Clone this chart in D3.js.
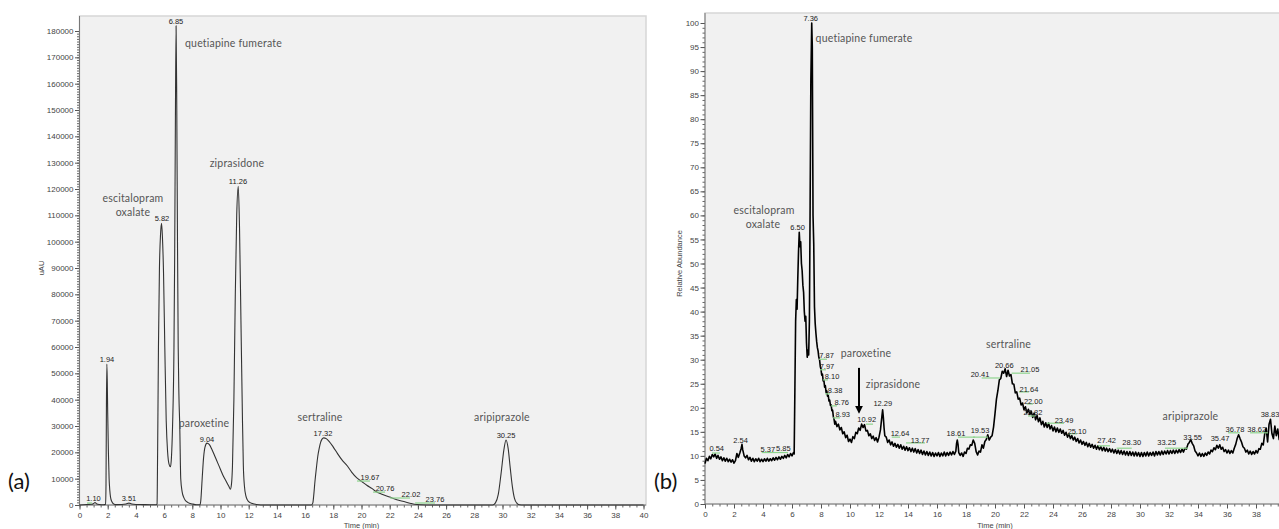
<!DOCTYPE html>
<html>
<head>
<meta charset="utf-8">
<script src="https://cdn.jsdelivr.net/npm/d3@7"></script>
<style>
  html, body { margin: 0; padding: 0; background: #fff; }
  svg { display: block; }
</style>
</head>
<body>
<svg id="fig" width="1279" height="529"></svg>
<script>
// ---------- (a) HPLC-UV chromatogram: [time (min), signal (uAU)] ----------
const lcTrace = [
  [0,0],[0.5,200],[0.9,300],[1.0,600],[1.1,900],[1.2,500],[1.4,200],[1.7,100],[1.85,300],
  [1.88,8000],[1.91,38000],[1.94,53500],[1.97,47000],[2.0,35000],[2.05,20000],[2.1,10000],
  [2.15,5500],[2.2,3000],[2.3,1200],[2.4,500],[2.6,150],[3.0,200],[3.3,400],[3.51,700],
  [3.7,400],[4.0,200],[4.5,150],[5.0,100],[5.45,100],[5.5,400],[5.54,20000],[5.6,60000],
  [5.67,90000],[5.75,103000],[5.82,107000],[5.88,102000],[5.96,88000],[6.05,60000],
  [6.15,32000],[6.25,20000],[6.35,15500],[6.45,14500],[6.52,18000],[6.6,30000],[6.7,60000],
  [6.75,95000],[6.8,145000],[6.85,182000],[6.9,150000],[6.95,100000],[7.0,60000],[7.05,42000],
  [7.11,30000],[7.18,10000],[7.28,5000],[7.4,2800],[7.5,1800],[7.7,900],[8.0,400],[8.3,100],
  [8.55,100],[8.6,1500],[8.7,10000],[8.8,18000],[8.9,22000],[9.04,23500],[9.2,23000],
  [9.4,21000],[9.6,18500],[9.8,16000],[10.0,13500],[10.2,11000],[10.4,9000],[10.6,7000],
  [10.7,6000],[10.78,8000],[10.85,15000],[10.95,40000],[11.05,80000],[11.15,110000],
  [11.26,121000],[11.35,105000],[11.45,70000],[11.55,35000],[11.62,15000],[11.7,7000],
  [11.8,3500],[11.9,2000],[12.1,900],[12.4,400],[12.7,100],[13.0,0],[16.45,0],[16.55,800],
  [16.6,3000],[16.7,9000],[16.8,14000],[16.9,18500],[17.0,21500],[17.1,23800],[17.2,25000],
  [17.32,25500],[17.5,25200],[17.7,24200],[18.0,22000],[18.3,19500],[18.6,17200],[19.0,14800],
  [19.3,12500],[19.67,10300],[20.0,9000],[20.4,7400],[20.76,6200],[21.0,5200],[21.5,4000],
  [22.0,3000],[22.5,2000],[23.0,1300],[23.5,600],[23.76,300],[24.2,100],[25.0,0],[29.3,0],
  [29.5,800],[29.7,4000],[29.9,12000],[30.1,21000],[30.25,24700],[30.4,21500],[30.55,14000],
  [30.7,7000],[30.85,2500],[31.0,800],[31.2,100],[31.5,0],[40,0]
];

// ---------- (b) LC-MS total ion chromatogram: [time (min), relative abundance] ----------
const msTrace = [
  [0.0,8.4],[0.1,9.5],[0.2,9.0],[0.3,9.9],[0.4,9.4],[0.5,10.3],[0.6,9.8],[0.7,10.4],[0.8,9.5],
  [0.9,10.1],[1.0,9.3],[1.1,9.8],[1.2,9.0],[1.3,9.6],[1.4,8.9],[1.5,9.5],[1.6,8.8],[1.7,9.3],
  [1.8,8.7],[1.9,9.2],[2.0,8.5],[2.1,9.0],[2.2,10.5],[2.3,9.7],[2.4,10.6],[2.5,11.6],[2.55,12.4],
  [2.6,11.3],[2.7,10.0],[2.8,9.6],[2.9,10.1],[3.0,9.2],[3.1,9.7],[3.2,8.9],[3.3,9.5],[3.4,8.8],
  [3.5,9.4],[3.6,8.9],[3.7,9.5],[3.8,8.8],[3.9,9.3],[4.0,8.8],[4.1,9.4],[4.2,8.9],[4.3,9.5],
  [4.4,8.9],[4.5,9.4],[4.6,9.0],[4.7,9.6],[4.8,9.1],[4.9,9.7],[5.0,9.2],[5.1,9.8],[5.2,9.3],
  [5.3,9.9],[5.4,9.5],[5.5,10.1],[5.6,9.6],[5.7,10.3],[5.8,9.8],[5.9,10.5],[6.0,10.0],[6.1,10.7],
  [6.15,10.4],[6.2,24],[6.25,38],[6.3,42.5],[6.35,40.5],[6.4,47],[6.45,52.5],[6.5,56.5],
  [6.55,53.5],[6.6,54.5],[6.65,50],[6.7,48.5],[6.75,45.5],[6.8,44],[6.85,40],[6.9,38],[6.95,39],
  [7.0,33.5],[7.05,30.5],[7.1,32],[7.15,31],[7.2,38],[7.25,62],[7.3,88],[7.36,100],[7.4,95],
  [7.45,60],[7.5,54],[7.55,41],[7.6,37.5],[7.65,35.5],[7.7,33.8],[7.75,32.5],[7.8,31.8],
  [7.85,30.5],[7.9,30],[7.95,28.6],[8.0,28.0],[8.05,26.8],[8.1,27.0],[8.15,25.6],[8.2,25.7],
  [8.25,24.3],[8.3,24.6],[8.35,23.2],[8.4,23.5],[8.45,22.4],[8.5,22.6],[8.55,21.4],[8.6,21.6],
  [8.65,20.5],[8.7,20.6],[8.75,19.4],[8.8,19.5],[8.85,18.2],[8.9,17.6],[8.95,16.6],[9.0,17.2],
  [9.1,16.1],[9.2,16.6],[9.3,15.4],[9.4,15.9],[9.5,14.6],[9.6,15.0],[9.7,13.8],[9.8,14.3],
  [9.9,13.0],[10.0,13.5],[10.1,12.8],[10.2,14.0],[10.3,13.6],[10.4,14.9],[10.5,14.6],[10.6,15.8],
  [10.7,15.3],[10.8,16.6],[10.9,15.9],[11.0,16.5],[11.1,15.2],[11.2,15.3],[11.3,14.2],[11.4,14.6],
  [11.5,13.6],[11.6,14.1],[11.7,13.2],[11.8,13.8],[11.9,12.9],[12.0,13.9],[12.1,15.4],[12.2,18.2],
  [12.25,19.6],[12.3,18.0],[12.35,15.8],[12.4,14.2],[12.5,13.9],[12.6,12.8],[12.7,13.3],[12.8,12.3],
  [12.9,12.9],[13.0,12.0],[13.1,12.6],[13.2,11.8],[13.3,12.4],[13.4,11.6],[13.5,12.3],[13.6,11.4],
  [13.7,12.0],[13.8,11.2],[13.9,11.9],[14.0,11.1],[14.1,11.7],[14.2,10.9],[14.3,11.6],[14.4,10.8],
  [14.5,11.5],[14.6,10.6],[14.7,11.3],[14.8,10.5],[14.9,11.2],[15.0,10.3],[15.1,11.0],[15.2,10.2],
  [15.3,10.9],[15.4,10.1],[15.5,10.8],[15.6,10.0],[15.7,10.7],[15.8,9.9],[15.9,10.6],[16.0,10.0],
  [16.1,10.7],[16.2,9.9],[16.3,10.6],[16.4,10.0],[16.5,10.8],[16.6,10.0],[16.7,10.7],[16.8,10.1],
  [16.9,10.8],[17.0,10.2],[17.1,10.9],[17.2,10.3],[17.3,11.0],[17.35,12.6],[17.4,13.3],[17.45,12.4],
  [17.5,10.7],[17.6,10.1],[17.7,10.6],[17.8,9.9],[17.9,10.8],[18.0,10.5],[18.1,11.6],[18.2,11.4],
  [18.3,12.3],[18.4,12.2],[18.5,13.3],[18.6,12.6],[18.7,10.9],[18.8,10.2],[18.9,11.0],[19.0,10.8],
  [19.1,12.3],[19.2,11.6],[19.3,13.0],[19.4,13.4],[19.5,14.4],[19.6,13.3],[19.7,13.9],[19.8,14.2],
  [19.9,16.0],[20.0,18.8],[20.1,21.8],[20.2,23.6],[20.3,25.8],[20.4,26.1],[20.5,27.6],[20.6,27.2],
  [20.7,28.1],[20.8,26.5],[20.9,27.8],[21.0,26.6],[21.1,26.9],[21.2,25.0],[21.3,24.9],[21.4,23.1],
  [21.5,23.3],[21.6,21.8],[21.7,22.0],[21.8,20.6],[21.9,21.0],[22.0,19.6],[22.1,20.2],[22.2,18.9],
  [22.3,19.7],[22.4,18.6],[22.5,19.3],[22.6,18.0],[22.7,18.9],[22.8,17.5],[22.9,18.4],[23.0,17.1],
  [23.1,17.9],[23.2,16.5],[23.3,17.2],[23.4,16.0],[23.5,16.9],[23.6,15.9],[23.7,16.8],[23.8,15.6],
  [23.9,16.3],[24.0,15.2],[24.1,16.0],[24.2,15.0],[24.3,15.8],[24.4,14.9],[24.5,15.6],[24.6,14.7],
  [24.7,15.3],[24.8,14.3],[24.9,14.9],[25.0,13.9],[25.1,14.6],[25.2,13.6],[25.3,14.2],[25.4,13.3],
  [25.5,13.9],[25.6,13.0],[25.7,13.6],[25.8,12.7],[25.9,13.3],[26.0,12.4],[26.1,13.0],[26.2,12.2],
  [26.3,12.8],[26.4,11.9],[26.5,12.6],[26.6,11.8],[26.7,12.4],[26.8,11.6],[26.9,12.2],[27.0,11.4],
  [27.1,12.1],[27.2,11.3],[27.3,11.9],[27.4,11.1],[27.5,11.8],[27.6,11.0],[27.7,11.6],[27.8,10.9],
  [27.9,11.5],[28.0,10.8],[28.1,11.4],[28.2,10.6],[28.3,11.3],[28.4,10.5],[28.5,11.2],[28.6,10.4],
  [28.7,11.1],[28.8,10.3],[28.9,11.0],[29.0,10.2],[29.1,10.9],[29.2,10.1],[29.3,10.9],[29.4,10.1],
  [29.5,10.8],[29.6,10.0],[29.7,10.8],[29.8,10.0],[29.9,10.7],[30.0,9.9],[30.1,10.7],[30.2,9.9],
  [30.3,10.7],[30.4,10.0],[30.5,10.8],[30.6,10.0],[30.7,10.7],[30.8,10.1],[30.9,10.8],[31.0,10.0],
  [31.1,10.9],[31.2,10.2],[31.3,10.9],[31.4,10.2],[31.5,11.0],[31.6,10.3],[31.7,11.0],[31.8,10.4],
  [31.9,11.1],[32.0,10.4],[32.1,11.1],[32.2,10.5],[32.3,11.2],[32.4,10.5],[32.5,11.2],[32.6,10.6],
  [32.7,11.3],[32.8,10.7],[32.9,11.4],[33.0,10.8],[33.1,11.6],[33.2,11.4],[33.3,12.4],[33.4,12.8],
  [33.5,13.4],[33.6,12.6],[33.7,12.1],[33.8,11.0],[33.9,10.6],[34.0,10.0],[34.1,10.6],[34.2,9.9],
  [34.3,10.5],[34.4,9.9],[34.5,10.6],[34.6,10.1],[34.7,10.8],[34.8,10.4],[34.9,11.2],[35.0,10.9],
  [35.1,11.7],[35.2,11.3],[35.3,12.2],[35.4,11.6],[35.5,12.3],[35.6,11.4],[35.7,11.8],[35.8,10.9],
  [35.9,11.3],[36.0,10.6],[36.1,11.2],[36.2,10.5],[36.3,11.1],[36.4,10.6],[36.5,11.6],[36.6,12.4],
  [36.7,13.6],[36.8,14.4],[36.9,13.6],[37.0,12.9],[37.1,11.9],[37.2,11.6],[37.3,10.8],[37.4,11.2],
  [37.5,10.4],[37.6,11.0],[37.7,10.3],[37.8,10.9],[37.9,10.4],[38.0,11.1],[38.1,10.6],[38.2,11.5],
  [38.3,11.4],[38.4,12.6],[38.5,12.3],[38.6,14.6],[38.7,15.8],[38.8,12.9],[38.9,16.6],[39.0,17.6],
  [39.1,14.6],[39.2,13.6],[39.3,16.2],[39.4,14.2],[39.5,15.6],[39.6,13.4],[39.7,16.0],[39.8,14.0],
  [39.9,15.2],[40.0,14.5]
];

// ---------- tick values ----------
const timeTicks = [0,2,4,6,8,10,12,14,16,18,20,22,24,26,28,30,32,34,36,38,40];
const lcSignalTicks = [0,10000,20000,30000,40000,50000,60000,70000,80000,90000,100000,
  110000,120000,130000,140000,150000,160000,170000,180000];
const msAbundTicks = [0,5,10,15,20,25,30,35,40,45,50,55,60,65,70,75,80,85,90,95,100];

// ---------- annotations: [text, time, value] ----------
const lcCompounds = [
  ["escitalopram", 3.79, 115000], ["oxalate", 3.79, 109700],
  ["quetiapine fumerate", 10.92, 173900], ["ziprasidone", 11.17, 128400],
  ["paroxetine", 8.83, 29600], ["sertraline", 17.06, 31900], ["aripiprazole", 29.96, 31900]
];
const lcPeakLabels = [
  ["1.10", 0.99, 1500], ["3.51", 3.51, 1500], ["1.94", 1.95, 54300], ["5.82", 5.85, 107800],
  ["6.85", 6.84, 182600], ["9.04", 9.04, 23900], ["11.26", 11.24, 121900],
  ["17.32", 17.27, 26200], ["30.25", 30.25, 25400], ["19.67", 20.6, 9500],
  ["20.76", 21.67, 5300], ["22.02", 23.51, 3000], ["23.76", 25.21, 1100]
];
// retention-time markers: [start time, end time, value]
const lcMarkers = [
  [0.53, 0.89, 760], [19.68, 20.6, 9100], [20.82, 21.67, 4900], [22.02, 23.44, 2650], [23.8, 25.21, 760]
];

const msCompounds = [
  ["escitalopram", 4.07, 60.3], ["oxalate", 4.0, 57.4], ["quetiapine fumerate", 10.97, 96.0],
  ["paroxetine", 11.1, 30.6], ["ziprasidone", 12.97, 24.1], ["sertraline", 20.93, 32.4],
  ["aripiprazole", 33.48, 17.5]
];
const msPeakLabels = [
  ["0.54", 0.81, 11.0], ["2.54", 2.46, 12.7], ["5.37", 4.33, 10.8], ["5.85", 5.40, 11.0],
  ["6.50", 6.39, 57.0], ["7.36", 7.29, 100.4], ["7.87", 8.39, 30.4], ["7.97", 8.41, 28.1],
  ["8.10", 8.76, 26.0], ["8.38", 8.97, 23.1], ["8.76", 9.43, 20.6], ["8.93", 9.50, 18.1],
  ["10.92", 11.15, 17.0], ["12.29", 12.26, 20.4], ["12.64", 13.45, 14.1], ["13.77", 14.83, 12.7],
  ["18.61", 17.31, 14.1], ["19.53", 18.97, 14.8], ["20.41", 18.97, 26.4], ["20.66", 20.64, 28.3],
  ["21.05", 22.41, 27.4], ["21.64", 22.34, 23.3], ["22.00", 22.64, 20.8], ["22.82", 22.62, 18.5],
  ["23.49", 24.76, 16.8], ["25.10", 25.66, 14.6], ["27.42", 27.7, 12.7], ["28.30", 29.43, 12.3],
  ["33.25", 31.84, 12.3], ["33.55", 33.63, 13.3], ["35.47", 35.52, 13.1], ["36.78", 36.55, 15.0],
  ["38.62", 38.05, 15.0], ["38.83", 38.97, 18.1]
];
const msMarkers = [
  [0.48, 1.03, 10.6], [3.91, 5.72, 10.7], [7.86, 8.41, 30.1], [7.93, 8.34, 27.9], [8.14, 8.48, 25.8],
  [8.28, 8.62, 22.9], [8.69, 9.10, 20.4], [8.83, 9.31, 17.9], [11.10, 11.59, 16.6],
  [12.88, 13.45, 13.9], [13.86, 15.17, 12.7], [17.45, 18.62, 13.9], [18.48, 19.52, 13.9],
  [19.08, 20.34, 26.2], [21.15, 22.41, 27.2], [21.66, 22.34, 23.3], [22.19, 22.62, 20.8],
  [22.28, 22.76, 18.3], [23.57, 24.76, 16.8], [25.03, 25.66, 14.6], [27.10, 27.93, 12.1],
  [28.39, 29.43, 11.6], [31.72, 33.31, 11.6], [36.07, 36.90, 14.8], [37.59, 38.83, 14.8]
];
// arrow pointing at the paroxetine response: [time, from value, to value]
const msArrow = [10.62, 28.3, 19.1];

// ---------- drawing ----------
const svg = d3.select("#fig");
const W = +svg.attr("width");
const TICK_FONT = "'Liberation Sans', Arial, sans-serif";
const NAME_FONT = "Lato, 'Open Sans', sans-serif";

function drawPanel(cfg) {
  const { x, y, frame, trace, curve, lineColor, lineWidth, yTicks, yMinor, yFormat,
          yLabel, yLabelX, compounds, peaks, markers, tag, tagX } = cfg;
  const g = svg.append("g");
  const x0 = x.range()[0], yb = y.range()[0];
  // only time ticks that fall inside the figure get a label
  const xTicks = timeTicks.filter(t => x(t) < W - 4);

  // plot background and light frame
  g.append("rect")
    .attr("x", x0).attr("y", frame.top)
    .attr("width", frame.right - x0).attr("height", yb - frame.top)
    .attr("fill", "#f1f1f1").attr("stroke", "#d6d6d6").attr("stroke-width", 1.5);

  // minor ticks
  g.append("g").attr("transform", `translate(${x0},0)`)
    .call(d3.axisLeft(y).tickValues(yMinor).tickSize(2.5).tickFormat("").tickSizeOuter(0))
    .call(a => a.select(".domain").remove())
    .call(a => a.selectAll("line").attr("stroke", "#666"));
  const xMinor = d3.range(0, 40.001, 0.5);
  g.append("g").attr("transform", `translate(0,${yb})`)
    .call(d3.axisBottom(x).tickValues(xMinor).tickSize(2.5).tickFormat("").tickSizeOuter(0))
    .call(a => a.select(".domain").remove())
    .call(a => a.selectAll("line").attr("stroke", "#666"));

  // major ticks with labels
  const yAxis = g.append("g").attr("transform", `translate(${x0},0)`)
    .call(d3.axisLeft(y).tickValues(yTicks).tickSize(4.5).tickPadding(1.5).tickFormat(yFormat).tickSizeOuter(0));
  const xAxis = g.append("g").attr("transform", `translate(0,${yb})`)
    .call(d3.axisBottom(x).tickValues(xTicks).tickSize(4.5).tickPadding(3).tickFormat(d3.format("d")).tickSizeOuter(0));
  [yAxis, xAxis].forEach(a => {
    a.select(".domain").remove();
    a.selectAll("line").attr("stroke", "#555");
    a.selectAll("text").attr("font-family", TICK_FONT).attr("font-size", 8).attr("fill", "#444");
  });

  // axis lines
  g.append("line").attr("x1", x0).attr("x2", x0).attr("y1", frame.top).attr("y2", yb)
    .attr("stroke", "#777").attr("stroke-width", 1);
  g.append("line").attr("x1", x0).attr("x2", frame.right).attr("y1", yb).attr("y2", yb)
    .attr("stroke", "#777").attr("stroke-width", 1);

  // axis titles
  g.append("text").attr("x", (x(0) + x(40)) / 2).attr("y", 527.5)
    .attr("text-anchor", "middle").attr("font-family", TICK_FONT).attr("font-size", 7.5)
    .attr("fill", "#444").text("Time (min)");
  g.append("text")
    .attr("transform", `translate(${yLabelX},${(y.range()[0] + y.range()[1]) / 2}) rotate(-90)`)
    .attr("text-anchor", "middle").attr("font-family", TICK_FONT).attr("font-size", 7.5)
    .attr("fill", "#444").text(yLabel);

  // chromatogram trace
  const line = d3.line().x(d => x(d[0])).y(d => y(d[1])).curve(curve);
  g.append("path").datum(trace).attr("d", line)
    .attr("fill", "none").attr("stroke", lineColor).attr("stroke-width", lineWidth)
    .attr("stroke-linejoin", "round");

  // retention-time markers
  g.selectAll(".marker").data(markers).join("line")
    .attr("x1", d => x(d[0])).attr("x2", d => x(d[1]))
    .attr("y1", d => y(d[2])).attr("y2", d => y(d[2]))
    .attr("stroke", "#8ed48e").attr("stroke-width", 1.2);

  // retention-time labels
  g.selectAll(".peak").data(peaks).join("text")
    .attr("x", d => x(d[1])).attr("y", d => y(d[2]))
    .attr("text-anchor", "middle").attr("font-family", TICK_FONT).attr("font-size", 7.5)
    .attr("fill", "#222").text(d => d[0]);

  // compound names
  g.selectAll(".cmp").data(compounds).join("text")
    .attr("x", d => x(d[1])).attr("y", d => y(d[2]))
    .attr("text-anchor", "middle").attr("font-family", NAME_FONT).attr("font-size", 10.5)
    .attr("fill", "#555").attr("letter-spacing", 0.2).text(d => d[0]);

  // panel tag
  svg.append("text").attr("x", tagX).attr("y", 489)
    .attr("font-family", NAME_FONT).attr("font-size", 22).attr("fill", "#111").text(tag);
  return g;
}

// (a) UV chromatogram
const xL = d3.scaleLinear().domain([0, 40]).range([79.5, 643.5]);
const yL = d3.scaleLinear().domain([0, 180000]).range([505, 31]);
drawPanel({
  x: xL, y: yL, frame: { top: 16, right: 646 },
  trace: lcTrace, curve: d3.curveMonotoneX, lineColor: "#333", lineWidth: 1.1,
  yTicks: lcSignalTicks, yMinor: d3.range(0, 180001, 1000), yFormat: d3.format("d"),
  yLabel: "uAU", yLabelX: 44,
  compounds: lcCompounds, peaks: lcPeakLabels, markers: lcMarkers,
  tag: "(a)", tagX: 8
});

// (b) MS total ion chromatogram
const xR = d3.scaleLinear().domain([0, 40]).range([705, 1285]);
const yR = d3.scaleLinear().domain([0, 100]).range([504, 23]);
const gR = drawPanel({
  x: xR, y: yR, frame: { top: 13, right: 1290 },
  trace: msTrace, curve: d3.curveLinear, lineColor: "#000", lineWidth: 1.6,
  yTicks: msAbundTicks, yMinor: d3.range(0, 100.001, 1), yFormat: d3.format("d"),
  yLabel: "Relative Abundance", yLabelX: 682,
  compounds: msCompounds, peaks: msPeakLabels, markers: msMarkers,
  tag: "(b)", tagX: 654
});

// arrow marking paroxetine
gR.append("defs").append("marker")
  .attr("id", "arrowhead").attr("viewBox", "0 0 10 10").attr("refX", 8).attr("refY", 5)
  .attr("markerWidth", 4).attr("markerHeight", 4).attr("orient", "auto")
  .append("path").attr("d", "M0,0 L10,5 L0,10 z").attr("fill", "#000");
gR.append("line")
  .attr("x1", xR(msArrow[0])).attr("x2", xR(msArrow[0]))
  .attr("y1", yR(msArrow[1])).attr("y2", yR(msArrow[2]))
  .attr("stroke", "#000").attr("stroke-width", 2).attr("marker-end", "url(#arrowhead)");
</script>
</body>
</html>
